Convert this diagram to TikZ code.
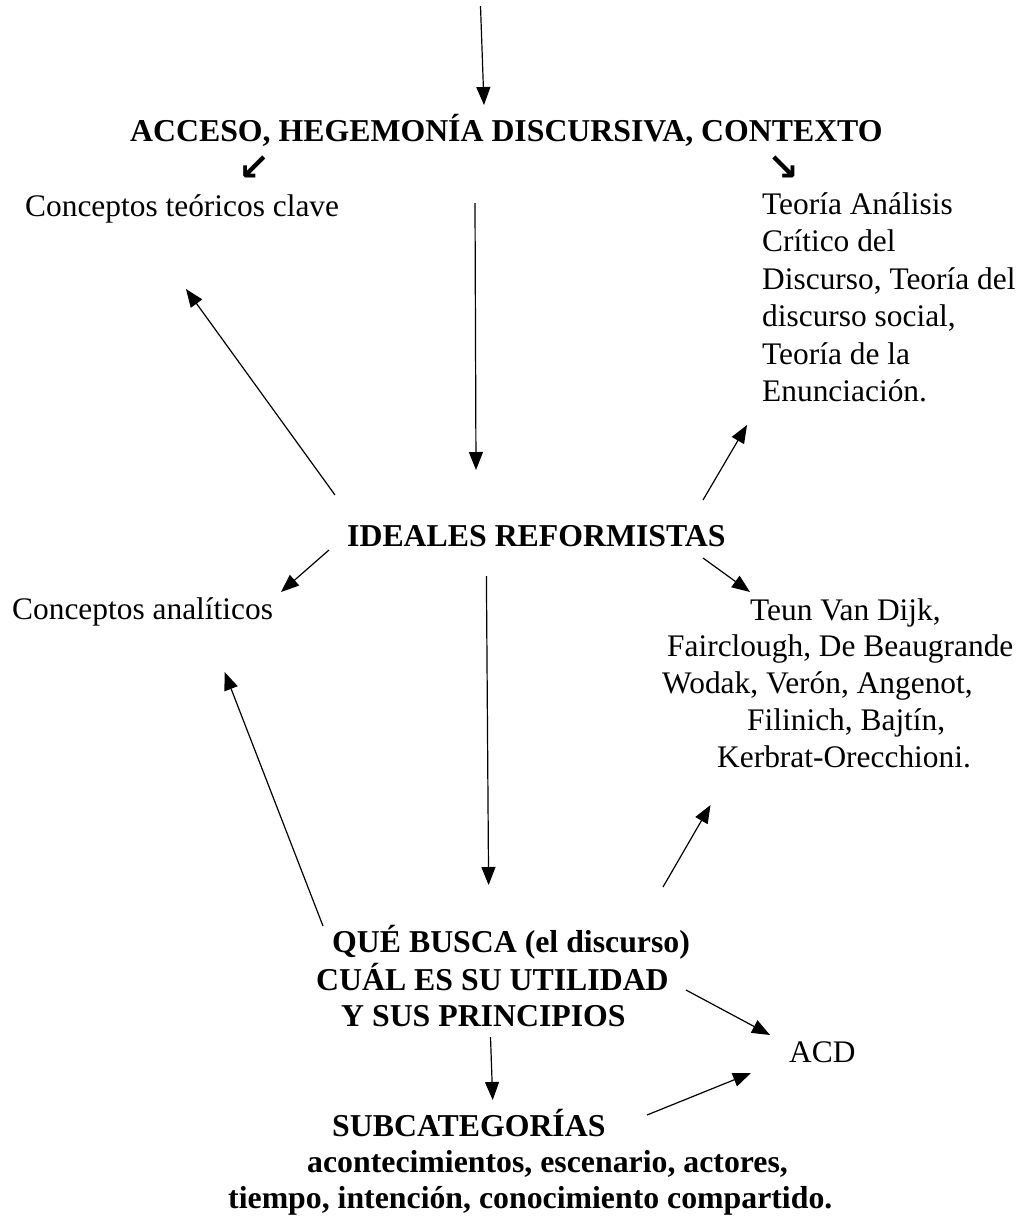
\documentclass[tikz,border=0pt]{standalone}
\usepackage{fontspec}
\setmainfont{Liberation Serif}
\newfontfamily\arrowfont{DejaVu Sans}
\usetikzlibrary{arrows.meta}
\begin{document}
\begin{tikzpicture}[x=1pt,y=-1pt,
  txt/.style={inner sep=0pt, anchor=base west, font=\fontsize{31.4}{37.5}\selectfont},
  btxt/.style={inner sep=0pt, anchor=base west, font=\fontsize{31.8}{36.5}\selectfont\bfseries},
  arr/.style={-{Triangle[length=18pt,width=14pt]}, line width=1.2pt},
  sym/.style={inner sep=0pt, font=\arrowfont\bfseries\fontsize{38}{38}\selectfont}]
\useasboundingbox (0,0) rectangle (1027,1218);

% texts
\node[btxt] (titulo) at (130,141) {ACCESO, HEGEMONÍA DISCURSIVA, CONTEXTO};
\node[sym] (fl) at (254,168) {↙};
\node[sym] (fr) at (783,168) {↘};
\node[txt] (ctc) at (25,216) {Conceptos teóricos clave};
\node[txt] (teor) at (762,214.3) {\begin{tabular}[t]{@{}l@{}}Teoría Análisis\\Crítico del\\Discurso, Teoría del\\discurso social,\\Teoría de la\\Enunciación.\end{tabular}};
\node[btxt] (ideales) at (347,546.5) {IDEALES REFORMISTAS};
\node[txt] (ca) at (12,619) {Conceptos analíticos};
\node[txt, font=\fontsize{31.4}{36.75}\selectfont] (autores) at (662,620) {\begin{tabular}[t]{@{}l@{}}\hspace*{88pt}Teun Van Dijk,\\\hspace*{5pt}Fairclough, De Beaugrande\\Wodak, Verón, Angenot,\\\hspace*{85pt}Filinich, Bajtín,\\\hspace*{55pt}Kerbrat-Orecchioni.\end{tabular}};
\node[btxt] (que) at (316,952) {\begin{tabular}[t]{@{}l@{}}\hspace*{16pt}QUÉ BUSCA (el discurso)\\CUÁL ES SU UTILIDAD\\\hspace*{25pt}Y SUS PRINCIPIOS\end{tabular}};
\node[txt] (acd) at (789,1062) {ACD};
\node[btxt, font=\fontsize{31.8}{36}\selectfont\bfseries] (sub) at (228,1136) {\begin{tabular}[t]{@{}l@{}}\hspace*{104pt}SUBCATEGORÍAS\\\hspace*{79pt}acontecimientos, escenario, actores,\\tiempo, intención, conocimiento compartido.\end{tabular}};

% connector ends
\coordinate (a0s) at (480.5,6);   \coordinate (a0e) at (484,105);
\coordinate (a1s) at (475,203);   \coordinate (a1e) at (476,470);
\coordinate (a2s) at (335,495);   \coordinate (a2e) at (186,289);
\coordinate (a3s) at (703,500);   \coordinate (a3e) at (747,425);
\coordinate (a4s) at (329,550);   \coordinate (a4e) at (281,592);
\coordinate (a5s) at (703,558);   \coordinate (a5e) at (750,592);
\coordinate (a6s) at (486.4,576); \coordinate (a6e) at (488.6,885);
\coordinate (a7s) at (323,926);   \coordinate (a7e) at (224.6,672);
\coordinate (a8s) at (663,887);   \coordinate (a8e) at (710.5,805);
\coordinate (a9s) at (686,990);   \coordinate (a9e) at (770,1035);
\coordinate (a10s) at (490.5,1037); \coordinate (a10e) at (492.7,1100);
\coordinate (a11s) at (647,1115); \coordinate (a11e) at (751,1073);

\foreach \i in {0,...,11} {\draw[arr] (a\i s) -- (a\i e);}
\end{tikzpicture}
\end{document}
